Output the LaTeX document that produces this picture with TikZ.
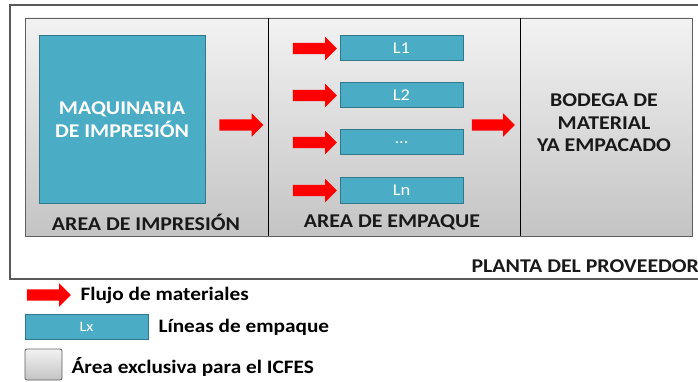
\documentclass[tikz,border=0pt]{standalone}
\usepackage{fontspec}
\setmainfont[FakeStretch=1.12]{Carlito}
\usetikzlibrary{shapes.arrows}
\definecolor{azullinea}{RGB}{75,172,198}
\definecolor{bordelinea}{RGB}{49,120,140}
\definecolor{grisclaro}{RGB}{242,242,242}
\definecolor{grisoscuro}{RGB}{196,196,196}
\definecolor{bordearea}{RGB}{95,95,95}
\tikzset{
  area/.style={draw=bordearea, line width=0.8pt, top color=grisclaro, bottom color=grisoscuro, minimum height=218, inner sep=0},
  maquina/.style={draw=bordelinea, line width=1pt, fill=azullinea, minimum width=166, minimum height=167, text=white, align=center, font=\fontsize{19.5}{23}\selectfont\bfseries},
  linea/.style={draw=bordelinea, line width=1pt, fill=azullinea, minimum width=123, minimum height=25, inner sep=0, text=white, font=\fontsize{16.5}{16.5}\selectfont},
  flecha/.style={single arrow, fill=red, draw=none, minimum width=23, single arrow head extend=6, minimum height=44, inner xsep=0, inner ysep=5.5},
  rotulo/.style={text=black!90, align=center, font=\fontsize{19.5}{22.5}\selectfont\bfseries},
  leyenda/.style={anchor=west, text=black, font=\fontsize{19}{19}\selectfont\bfseries},
}
\begin{document}
\begin{tikzpicture}[x=1pt, y=-1pt]
\useasboundingbox (0,0) rectangle (698,382);
\clip (0,0) rectangle (698,382);
\fill[white] (0,0) rectangle (698,382);
% planta
\draw[draw=black!65, line width=1.6pt] (10,5) rectangle (712,279);
\node[area, minimum width=243] (imp) at (146.5,127) {};
\node[area, minimum width=252] (emp) at (394,127) {};
\node[area, minimum width=172] (bod) at (606,127) {};
\draw[line width=1.8pt] (imp.north east) -- (imp.south east);
\draw[line width=1.8pt] (emp.north east) -- (emp.south east);
% area de impresion
\node[maquina] (maq) at (122,119.5) {MAQUINARIA\\DE IMPRESIÓN};
\node[rotulo] (rimp) at (146,222) {AREA DE IMPRESIÓN};
\node[flecha] (f0) at (238.5,125) {};
% area de empaque
\node[linea] (l1) at (401.5,48.5) {L1};
\node[linea] (l2) at (401.5,95.5) {L2};
\node[linea] (l3) at (401.5,142.5) {...};
\node[linea] (ln) at (401.5,190.5) {Ln};
\node[flecha] (f1) at (312,48.5) {};
\node[flecha] (f2) at (312,95.5) {};
\node[flecha] (f3) at (312,142.5) {};
\node[flecha] (f4) at (312,190.5) {};
\node[rotulo] (remp) at (392,222) {AREA DE EMPAQUE};
\node[flecha, minimum height=43] (f5) at (490.5,125) {};
% bodega
\node[rotulo] (rbod) at (604,123) {BODEGA DE\\MATERIAL\\YA EMPACADO};
\node[rotulo, anchor=west] (rpla) at (468,266) {PLANTA DEL PROVEEDOR};
% leyenda
\node[flecha] (lf) at (46,295) {};
\node[leyenda] (tf) at (77,295) {Flujo de materiales};
\node[linea, font=\fontsize{14.5}{14.5}\selectfont] (lx) at (86.5,326.5) {Lx};
\node[leyenda] (tx) at (155,327) {Líneas de empaque};
\node[draw=bordearea, line width=0.8pt, rounded corners=2pt, top color=grisclaro, bottom color=grisoscuro, minimum width=37, minimum height=31, inner sep=0] (lg) at (43.5,364.5) {};
\node[leyenda] (tg) at (68,367) {Área exclusiva para el ICFES};
\end{tikzpicture}
\end{document}
